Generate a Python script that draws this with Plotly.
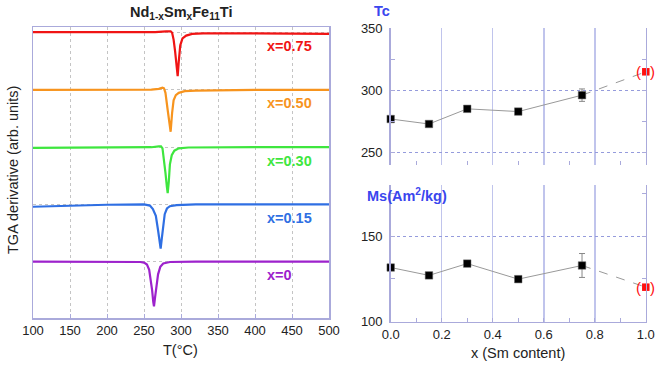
import plotly.graph_objects as go

# ---------------- Left panel: TGA derivative curves ----------------
curve_labels = ["x=0.75", "x=0.50", "x=0.30", "x=0.15", "x=0"]
curve_offsets = [5, 4, 3, 2, 1]
curve_colors = ["#f01414", "#f7941e", "#3ee63e", "#2f6fe3", "#9d22cc"]

T_075 = [100, 200, 265, 280, 286, 288, 290, 292, 294, 295.5, 297, 299, 302, 307, 315, 330, 400, 500]
d_075 = [0.01, 0.005, 0.01, 0.025, 0.025, 0.0, -0.12, -0.32, -0.55, -0.76, -0.5, -0.22, -0.1, -0.05, -0.02, -0.01, -0.01, -0.02]

T_050 = [100, 200, 260, 270, 275, 277, 279, 282, 284, 286, 288, 290, 293, 297, 305, 320, 400, 500]
d_050 = [0.0, 0.0, 0.005, 0.02, 0.04, 0.03, -0.05, -0.35, -0.58, -0.73, -0.4, -0.18, -0.09, -0.05, -0.02, -0.01, 0.0, 0.0]

T_030 = [100, 200, 260, 270, 273, 275, 277, 279, 281, 282, 283.5, 285, 287.5, 291, 297, 310, 400, 500]
d_030 = [-0.01, -0.005, 0.0, 0.015, 0.015, -0.02, -0.2, -0.45, -0.7, -0.8, -0.6, -0.3, -0.14, -0.06, -0.02, -0.005, 0.0, 0.0]

T_015 = [100, 150, 200, 250, 258, 262, 266, 269, 271, 272.5, 274, 276, 278, 281, 285, 294, 320, 500]
d_015 = [-0.04, -0.02, -0.005, 0.0, -0.02, -0.08, -0.2, -0.45, -0.68, -0.77, -0.6, -0.33, -0.17, -0.07, -0.03, -0.01, 0.0, 0.0]

T_000 = [100, 200, 245, 250, 254, 257, 259, 261, 262.5, 263.5, 265, 267, 269, 272, 276, 285, 320, 500]
d_000 = [0.0, 0.0, -0.005, -0.015, -0.05, -0.14, -0.3, -0.5, -0.7, -0.78, -0.62, -0.38, -0.22, -0.09, -0.03, -0.005, 0.0, 0.0]

curve_T = [T_075, T_050, T_030, T_015, T_000]
curve_d = [d_075, d_050, d_030, d_015, d_000]

T_ticks = [100, 150, 200, 250, 300, 350, 400, 450, 500]

# ---------------- Right panels: Tc and Ms vs Sm content ----------------
sm_x = [0.0, 0.15, 0.30, 0.50, 0.75]
tc_vals = [277, 273, 285.2, 283, 296.2]
tc_err = [0, 0, 0, 0, 5]
ms_vals = [131.7, 127.1, 134.0, 124.9, 132.9]
ms_err = [0, 0, 0, 0, 7]
sm_x_end = 1.0
tc_end = 315
ms_end = 120.2

FONT = "Liberation Sans, Arial, sans-serif"
FRAME = "#aaaadb"
RGRID = "#c0c4ec"
HGRID = "#959bdc"
BLUE = "#3a46ee"

fig = go.Figure()

# left curves
for T, d, off, col in zip(curve_T, curve_d, curve_offsets, curve_colors):
    fig.add_trace(go.Scatter(x=T, y=[off + v for v in d], mode="lines",
                             line=dict(color=col, width=2.2),
                             xaxis="x", yaxis="y", showlegend=False, hoverinfo="skip"))

for lab, off, col in zip(curve_labels, curve_offsets, curve_colors):
    fig.add_annotation(x=414, y=off - 0.235, xref="x", yref="y", text="<b>%s</b>" % lab,
                       showarrow=False, xanchor="left", yanchor="middle",
                       font=dict(family=FONT, size=14.5, color=col))

# Tc panel
fig.add_trace(go.Scatter(x=[sm_x[-1], sm_x_end], y=[tc_vals[-1], tc_end], mode="lines",
                         line=dict(color="#999999", width=1, dash="dash"),
                         xaxis="x2", yaxis="y2", showlegend=False, hoverinfo="skip"))
fig.add_trace(go.Scatter(x=sm_x, y=tc_vals, mode="lines+markers",
                         line=dict(color="#999999", width=1),
                         marker=dict(symbol="square", size=7.5, color="black", line=dict(color="#666", width=0.5)),
                         error_y=dict(type="data", array=tc_err, color="#888888", thickness=1, width=3),
                         cliponaxis=False, xaxis="x2", yaxis="y2", showlegend=False, hoverinfo="skip"))
fig.add_trace(go.Scatter(x=[sm_x_end], y=[tc_end], mode="markers",
                         marker=dict(symbol="square", size=7.5, color="#ff1010"),
                         cliponaxis=False, xaxis="x2", yaxis="y2", showlegend=False, hoverinfo="skip"))

# Ms panel
fig.add_trace(go.Scatter(x=[sm_x[-1], sm_x_end], y=[ms_vals[-1], ms_end], mode="lines",
                         line=dict(color="#999999", width=1, dash="dash"),
                         xaxis="x3", yaxis="y3", showlegend=False, hoverinfo="skip"))
fig.add_trace(go.Scatter(x=sm_x, y=ms_vals, mode="lines+markers",
                         line=dict(color="#999999", width=1),
                         marker=dict(symbol="square", size=7.5, color="black", line=dict(color="#666", width=0.5)),
                         error_y=dict(type="data", array=ms_err, color="#888888", thickness=1, width=3),
                         cliponaxis=False, xaxis="x3", yaxis="y3", showlegend=False, hoverinfo="skip"))
fig.add_trace(go.Scatter(x=[sm_x_end], y=[ms_end], mode="markers",
                         marker=dict(symbol="square", size=7.5, color="#ff1010"),
                         cliponaxis=False, xaxis="x3", yaxis="y3", showlegend=False, hoverinfo="skip"))

for yv, yr in [(tc_end, "y2"), (ms_end, "y3")]:
    xr = "x2" if yr == "y2" else "x3"
    fig.add_annotation(x=sm_x_end, y=yv, xref=xr, yref=yr, text="(", showarrow=False,
                       xanchor="center", yanchor="middle",
                       xshift=-7, font=dict(family=FONT, size=15, color="#ff1010"))
    fig.add_annotation(x=sm_x_end, y=yv, xref=xr, yref=yr, text=")", showarrow=False,
                       xanchor="center", yanchor="middle",
                       xshift=7, font=dict(family=FONT, size=15, color="#ff1010"))

W, H = 659, 365
def px_x(p): return p / W
def px_y(p): return 1 - p / H

tickfont = dict(family=FONT, size=13, color="#222222")

fig.update_layout(
    width=W, height=H, autosize=False,
    margin=dict(l=0, r=0, t=0, b=0, pad=0, autoexpand=False),
    paper_bgcolor="white", plot_bgcolor="white", showlegend=False,
    font=dict(family=FONT, color="#222222"),
    xaxis=dict(domain=[px_x(33), px_x(329)], range=[100, 500], tickvals=T_ticks,
               ticks="inside", ticklen=4, tickcolor=FRAME, tickfont=tickfont,
               showline=True, linecolor=FRAME, linewidth=1.5, mirror=True,
               showgrid=True, gridcolor="#c4c4c4", gridwidth=1, griddash="dot",
               zeroline=False, anchor="y", automargin=False),
    yaxis=dict(domain=[px_y(318), px_y(27)], range=[0.017, 5.1], tickvals=curve_offsets,
               showticklabels=False, ticks="",
               showline=True, linecolor=FRAME, linewidth=1.5, mirror=True,
               showgrid=True, gridcolor="#c4c4c4", gridwidth=1, griddash="dot",
               zeroline=False, anchor="x", automargin=False),
    xaxis2=dict(domain=[px_x(390.7), px_x(645.8)], range=[0, 1], dtick=0.2,
                showticklabels=False, ticks="", showline=False,
                showgrid=True, gridcolor=RGRID, gridwidth=1.5, zeroline=False, anchor="y2",
                automargin=False,
                minor=dict(dtick=0.1, ticks="inside", ticklen=4, tickcolor=FRAME, showgrid=False)),
    yaxis2=dict(domain=[px_y(165), px_y(28.3)], range=[240, 350], tickvals=[250, 300, 350],
                ticks="inside", ticklen=4, tickcolor=FRAME, tickfont=tickfont,
                showline=True, linecolor=FRAME, linewidth=1.5, mirror="ticks",
                showgrid=True, gridcolor=HGRID, gridwidth=1, griddash="dot", zeroline=False,
                anchor="x2", ticklabelstandoff=4, automargin=False,
                minor=dict(tickvals=[275, 325], ticks="inside", ticklen=4, tickcolor=FRAME, showgrid=False)),
    xaxis3=dict(domain=[px_x(390.7), px_x(645.8)], range=[0, 1], dtick=0.2, tickformat=".1f",
                ticks="inside", ticklen=4, tickcolor=FRAME, tickfont=tickfont,
                showline=True, linecolor=FRAME, linewidth=1.5,
                showgrid=True, gridcolor=RGRID, gridwidth=1.5, zeroline=False, anchor="y3",
                automargin=False,
                minor=dict(dtick=0.1, ticks="inside", ticklen=4, tickcolor=FRAME, showgrid=False)),
    yaxis3=dict(domain=[px_y(321.7), px_y(185)], range=[100, 180], tickvals=[100, 150],
                ticks="inside", ticklen=4, tickcolor=FRAME, tickfont=tickfont,
                showline=True, linecolor=FRAME, linewidth=1.5, mirror="ticks",
                showgrid=True, gridcolor=HGRID, gridwidth=1, griddash="dot", zeroline=False,
                anchor="x3", ticklabelstandoff=4, automargin=False,
                minor=dict(tickvals=[125, 175], ticks="inside", ticklen=4, tickcolor=FRAME, showgrid=False)),
)

def label(x, y, text, size=14.5, color="#222222", xanchor="center", angle=0):
    fig.add_annotation(x=px_x(x), y=px_y(y), xref="paper", yref="paper",
                       xanchor=xanchor, yanchor="middle", text=text, textangle=angle,
                       showarrow=False, font=dict(family=FONT, size=size, color=color))

# titles
label(181, 13, "<b>Nd<sub>1-x</sub>Sm<sub>x</sub>Fe<sub>11</sub>Ti</b>")
label(13, 170, "TGA derivative (arb. units)", angle=-90)
label(181, 350, "T(°C)")
label(518, 353, "x (Sm content)")
label(372, 11, "<b>Tc</b>", color=BLUE, xanchor="left")
label(365, 195, "<b>Ms(Am<sup>2</sup>/kg)</b>", color=BLUE, xanchor="left")

fig.write_html("out.html", config={"displayModeBar": False, "staticPlot": True},
               post_script="document.body.style.margin='0';document.body.style.padding='0';"
                           "document.body.style.overflow='hidden';")
